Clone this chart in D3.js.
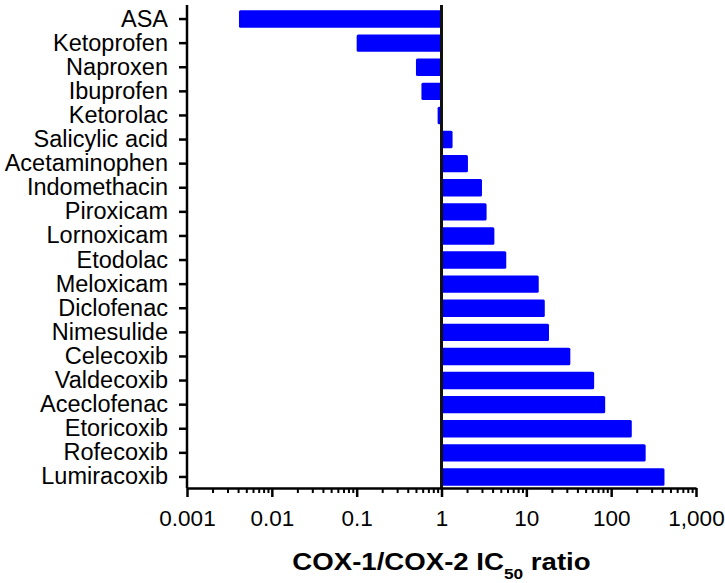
<!DOCTYPE html>
<html>
<head>
<meta charset="utf-8">
<script src="https://cdn.jsdelivr.net/npm/d3@7"></script>
<style>
  body { margin: 0; background: #fff; }
  svg { display: block; font-family: "Liberation Sans", Arial, sans-serif; }
</style>
</head>
<body>
<svg id="chart"></svg>
<script>
// Drug names, top to bottom
const drugs = [
  "ASA", "Ketoprofen", "Naproxen", "Ibuprofen", "Ketorolac",
  "Salicylic acid", "Acetaminophen", "Indomethacin", "Piroxicam", "Lornoxicam",
  "Etodolac", "Meloxicam", "Diclofenac", "Nimesulide", "Celecoxib",
  "Valdecoxib", "Aceclofenac", "Etoricoxib", "Rofecoxib", "Lumiracoxib"
];
// COX-1/COX-2 IC50 ratio
const ratios = [
  0.0041, 0.1, 0.5, 0.58, 0.9,
  1.35, 2.05, 3.0, 3.4, 4.2,
  5.8, 14, 16.5, 18.5, 33,
  63, 85, 175, 255, 425
];
// Major ticks on the x axis and their labels
const majorTicks = [0.001, 0.01, 0.1, 1, 10, 100, 1000];
const majorLabels = ["0.001", "0.01", "0.1", "1", "10", "100", "1,000"];

const width = 725;
const height = 583;

const svg = d3.select("#chart")
  .attr("width", width)
  .attr("height", height);

// Scales
const xScale = d3.scaleLog()
  .domain([0.001, 1000])
  .range([187, 696]);

const yScale = d3.scaleBand()
  .domain(drugs)
  .range([7, 489])
  .paddingInner(0.28)
  .paddingOuter(0.14);

const axisY = 488;

// Minor ticks: 2..9 in every decade
const minorTicks = [];
majorTicks.slice(0, -1).forEach((m) => {
  for (let k = 2; k < 10; k++) minorTicks.push(m * k);
});

// Bars, drawn from 1
svg.append("g")
  .selectAll("rect")
  .data(drugs)
  .join("rect")
  .attr("x", (d, i) => Math.min(xScale(ratios[i]), xScale(1)))
  .attr("y", (d) => yScale(d))
  .attr("width", (d, i) => Math.abs(xScale(ratios[i]) - xScale(1)))
  .attr("height", yScale.bandwidth())
  .attr("rx", 1.5)
  .attr("fill", "#0000ff");

// Reference line at ratio = 1
svg.append("line")
  .attr("x1", xScale(1))
  .attr("x2", xScale(1))
  .attr("y1", 5)
  .attr("y2", axisY)
  .attr("stroke", "#111")
  .attr("stroke-width", 3);

// Minor x ticks
svg.append("g")
  .attr("transform", `translate(0,${axisY})`)
  .call(d3.axisBottom(xScale).tickValues(minorTicks).tickSize(5).tickFormat(""))
  .call((g) => g.select(".domain").remove())
  .selectAll("line")
  .attr("stroke", "#000")
  .attr("stroke-width", 2);

// Major x ticks and labels
const xAxis = svg.append("g")
  .attr("transform", `translate(0,${axisY})`)
  .call(d3.axisBottom(xScale)
    .tickValues(majorTicks)
    .tickSize(9)
    .tickSizeOuter(0)
    .tickPadding(13)
    .tickFormat((d, i) => majorLabels[i]));

xAxis.select(".domain").attr("stroke", "#000").attr("stroke-width", 2.5);
xAxis.selectAll(".tick line").attr("stroke", "#000").attr("stroke-width", 2.5);
xAxis.selectAll("text")
  .attr("fill", "#000")
  .style("font-size", "22.5px");

// Y axis with drug names
const yAxis = svg.append("g")
  .attr("transform", "translate(187,0)")
  .call(d3.axisLeft(yScale).tickSize(8).tickSizeOuter(0).tickPadding(11));

yAxis.select(".domain")
  .attr("d", `M0,5V${axisY}`)
  .attr("stroke", "#000")
  .attr("stroke-width", 2.5);
yAxis.selectAll(".tick line").attr("stroke", "#000").attr("stroke-width", 2.5);
yAxis.selectAll("text")
  .attr("fill", "#000")
  .style("font-size", "23.5px");

// X axis title with subscript
const title = svg.append("text")
  .attr("text-anchor", "middle")
  .attr("transform", `translate(${(xScale.range()[0] + xScale.range()[1]) / 2},570) scale(1.15,1)`)
  .style("font-size", "24px")
  .style("font-weight", "bold")
  .attr("fill", "#000");

title.append("tspan").text("COX-1/COX-2 IC");
title.append("tspan").attr("dy", 9).style("font-size", "15px").text("50");
title.append("tspan").attr("dy", -9).text(" ratio");
</script>
</body>
</html>
